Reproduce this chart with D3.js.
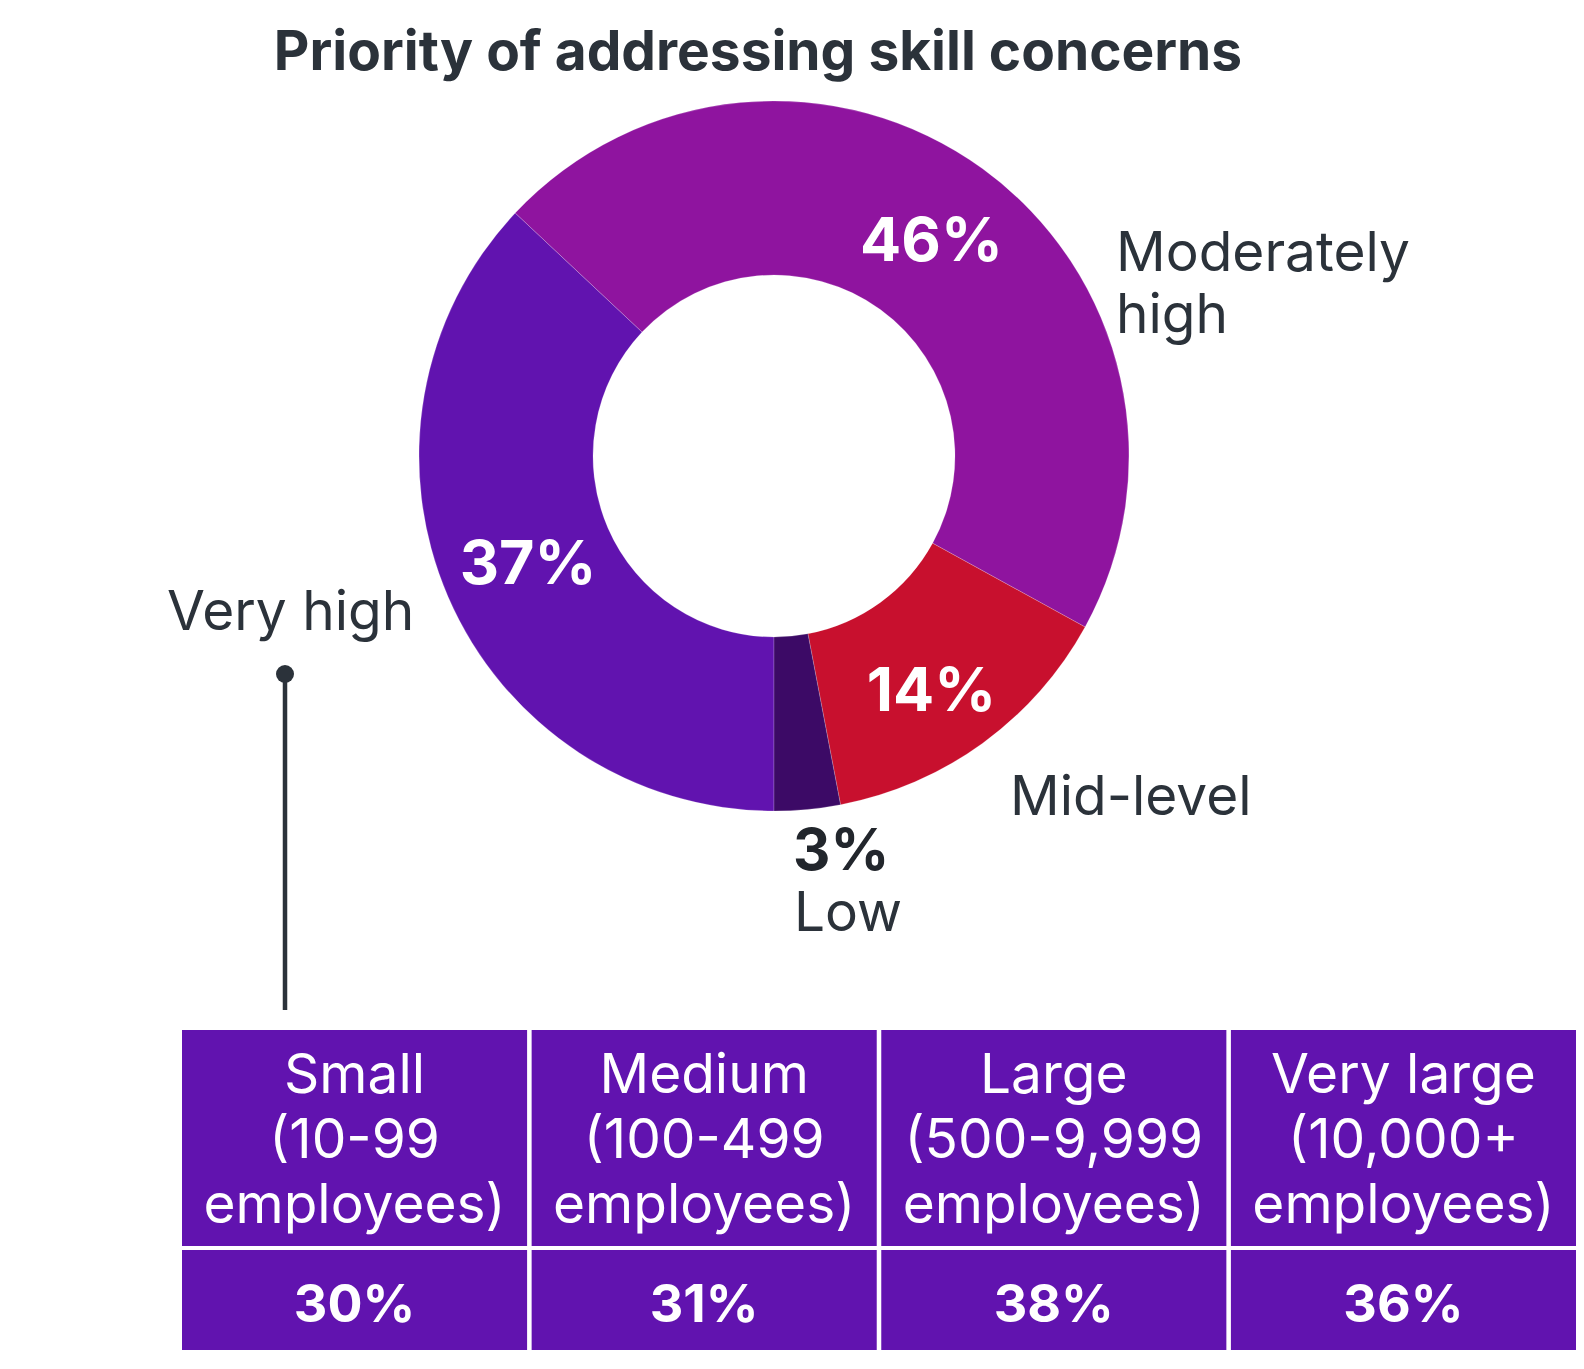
<!DOCTYPE html>
<html>
<head>
<meta charset="utf-8">
<script src="https://cdn.jsdelivr.net/npm/d3@7"></script>
<style>
  body { margin: 0; background: #fff; }
  svg text { font-family: Inter, "Noto Sans", sans-serif; }
</style>
</head>
<body>
<svg id="chart" width="1584" height="1369"></svg>
<script>
// data
const levels = ['Very high', 'Moderately high', 'Mid-level', 'Low']
const shares = [37, 46, 14, 3]
const levelColors = ['#6113AF', '#8F149F', '#C8102E', '#3C0A66']

const sizeNames = ['Small', 'Medium', 'Large', 'Very large']
const sizeRanges = ['(10-99', '(100-499', '(500-9,999', '(10,000+']
const veryHighBySize = [30, 31, 38, 36]

const ink = '#2B323A'
const svg = d3.select('#chart')

// title
svg.append('text')
    .attr('x', 758).attr('y', 70)
    .attr('text-anchor', 'middle')
    .style('font-size', '55px').style('font-weight', 700)
    .style('fill', ink)
    .text('Priority of addressing skill concerns')

// donut
const cx = 774, cy = 456
const outerR = 355, innerR = 181
const g = svg.append('g').attr('transform', `translate(${cx},${cy})`)

const pie = d3.pie().sort(null).value(d => d.v)
    .startAngle(Math.PI).endAngle(3 * Math.PI)
const arcs = pie(levels.map((l, i) => ({ name: l, v: shares[i], color: levelColors[i] })))
const arc = d3.arc().innerRadius(innerR).outerRadius(outerR)

g.selectAll('path')
    .data(arcs)
    .enter()
    .append('path')
    .attr('d', arc)
    .style('fill', d => d.data.color)
    .style('stroke', '#ffffff55').style('stroke-width', 0.6)

// percent labels inside the ring (skip the tiny one)
g.selectAll('text.pct')
    .data(arcs.filter(d => d.data.v > 5))
    .enter()
    .append('text')
    .attr('class', 'pct')
    .attr('transform', d => {
        const [px, py] = arc.centroid(d)
        // the mid-level label sits a bit lower than its centroid
        return `translate(${px},${d.data.v < 20 ? py + 16 : py})`
    })
    .attr('text-anchor', 'middle')
    .attr('dy', '0.36em')
    .style('font-size', '61px').style('font-weight', 700)
    .style('fill', '#fff')
    .text(d => d.data.v + '%')

// outside labels
const labelStyle = sel => sel.style('font-size', '55px').style('fill', ink)

svg.append('text').attr('x', 1116).attr('y', 271).call(labelStyle).text('Moderately')
svg.append('text').attr('x', 1116).attr('y', 333).call(labelStyle).text('high')
svg.append('text').attr('x', 1010).attr('y', 815).call(labelStyle).text(levels[2])
svg.append('text').attr('x', 793).attr('y', 870)
    .style('font-size', '58px').style('font-weight', 700).style('fill', '#22262C')
    .text(shares[3] + '%')
svg.append('text').attr('x', 794).attr('y', 931).call(labelStyle).text(levels[3])
svg.append('text').attr('x', 167).attr('y', 630).call(labelStyle).text(levels[0])

// connector from "Very high" down to the table
svg.append('line')
    .attr('x1', 285).attr('x2', 285)
    .attr('y1', 674).attr('y2', 1010)
    .style('stroke', ink).style('stroke-width', 4.5)
svg.append('circle')
    .attr('cx', 285).attr('cy', 674).attr('r', 9)
    .style('fill', ink)

// table of very high by company size
const x = d3.scaleBand().domain(sizeNames).range([182, 1576]).paddingInner(0.013)
const headTop = 1030, headBottom = 1246, rowTop = 1250, rowBottom = 1350
const tableColor = levelColors[0]

const cols = svg.selectAll('g.col')
    .data(sizeNames.map((n, i) => ({ name: n, range: sizeRanges[i], v: veryHighBySize[i] })))
    .enter()
    .append('g')
    .attr('class', 'col')
    .attr('transform', d => `translate(${x(d.name)},0)`)

cols.append('rect')
    .attr('y', headTop).attr('width', x.bandwidth()).attr('height', headBottom - headTop)
    .style('fill', tableColor)
cols.append('rect')
    .attr('y', rowTop).attr('width', x.bandwidth()).attr('height', rowBottom - rowTop)
    .style('fill', tableColor)

const head = cols.append('text')
    .attr('text-anchor', 'middle')
    .style('font-size', '55px').style('fill', '#fff')
head.append('tspan').attr('x', x.bandwidth() / 2).attr('y', 1093).text(d => d.name)
head.append('tspan').attr('x', x.bandwidth() / 2).attr('y', 1158).text(d => d.range)
head.append('tspan').attr('x', x.bandwidth() / 2).attr('y', 1223).text('employees)')

cols.append('text')
    .attr('x', x.bandwidth() / 2).attr('y', 1322)
    .attr('text-anchor', 'middle')
    .style('font-size', '52px').style('font-weight', 700).style('fill', '#fff')
    .text(d => d.v + '%')
</script>
</body>
</html>
